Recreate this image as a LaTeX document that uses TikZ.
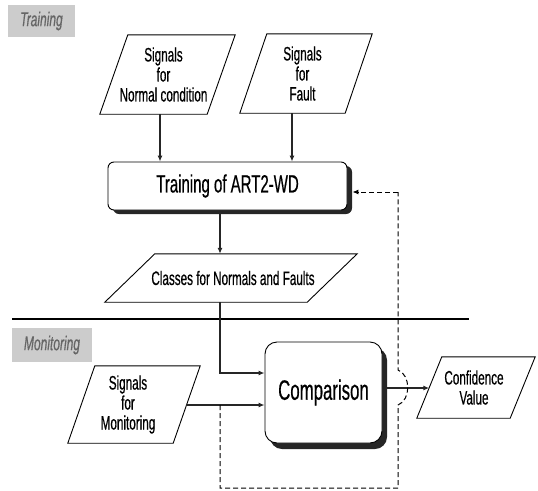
\documentclass[tikz,border=0pt]{standalone}
\usepackage{fontspec}
\setmainfont{Liberation Sans}[FakeStretch=0.6, FakeBold=0.5]
\usetikzlibrary{shadows,arrows.meta}
\newcommand\mypara[2]{\draw[pbox] (#1.south west) -- ([xshift=-#2 pt]#1.south east) -- (#1.north east) -- ([xshift=#2 pt]#1.north west) -- cycle;}
\begin{document}
\begin{tikzpicture}[x=1pt,y=-1pt,
  frame/.style={inner sep=0pt},
  lbl/.style={font=\fontsize{19.5}{20}\selectfont, align=center, inner sep=0pt},
  pbox/.style={draw, line width=0.9pt},
  arr/.style={line width=1.4pt, black!85, -{Latex[length=6pt,width=5pt]}},
  dsh/.style={line width=1pt, black, dash pattern=on 5pt off 3pt},
  tag/.style={fill=black!20, text=black!60, font=\fontsize{20}{22}\selectfont\itshape, inner sep=0pt},
  shbox/.style={draw, fill=white, line width=0.9pt, align=center},
]
\useasboundingbox (0,0) rectangle (538,490);

% section tags
\node[tag, minimum width=67pt, minimum height=32pt] (tt) at (41.5,21) {Training};
\node[tag, minimum width=80pt, minimum height=34pt] (mt) at (52,345) {Monitoring};

% separator
\coordinate (s1) at (12,319);
\coordinate (s2) at (469,319);
\draw[line width=1.1pt] (s1) -- (s2);

% parallelogram nodes
\node[frame, minimum width=135pt, minimum height=79pt] (nc) at (167.5,74.5) {};
\mypara{nc}{28}
\node[lbl] (nct) at ([xshift=-4pt]nc.center) {Signals\\for\\Normal condition};
\node[frame, minimum width=132pt, minimum height=79pt] (fa) at (306,73.5) {};
\mypara{fa}{27}
\node[lbl] (fat) at ([xshift=-3.5pt]fa.center) {Signals\\for\\Fault};
\node[frame, minimum width=252pt, minimum height=48pt] (cl) at (231,278) {};
\mypara{cl}{50}
\node[lbl] (clt) at ([xshift=2pt]cl.center) {Classes for Normals and Faults};
\node[frame, minimum width=132pt, minimum height=77pt] (sm) at (134,404.5) {};
\mypara{sm}{27}
\node[lbl] (smt) at ([xshift=-6pt]sm.center) {Signals\\for\\Monitoring};
\node[frame, minimum width=118pt, minimum height=61pt] (cv) at (476,387.5) {};
\mypara{cv}{25}
\node[lbl] (cvt) at ([xshift=-2pt]cv.center) {Confidence\\Value};

% boxes with shadows
\node[shbox, rounded corners=6pt, minimum width=239pt, minimum height=48pt,
  font=\fontsize{25}{27}\selectfont,
  drop shadow={shadow xshift=5pt, shadow yshift=-4pt, fill=black!85, opacity=1}]
  (tr) at (227.5,186) {Training of ART2-WD};
\node[shbox, rounded corners=12pt, minimum width=117pt, minimum height=101pt,
  font=\fontsize{28}{30}\selectfont,
  drop shadow={shadow xshift=5pt, shadow yshift=-6pt, fill=black!85, opacity=1}]
  (cp) at (323.5,392.5) {Comparison};

% solid connectors
\draw[arr] (nc.south) ++(-7.5,0) coordinate (a1) -- (a1 |- tr.north);
\draw[arr] (fa.south) ++(-14,0) coordinate (a2) -- (a2 |- tr.north);
\draw[arr] (tr.south) ++(-7.5,4) coordinate (a3) -- (a3 |- cl.north);
\draw[arr] (cl.south) ++(-11,0) coordinate (a4) |- ([yshift=19.5pt]cp.west);
\draw[arr] (sm.east) ++(-14,0.5) coordinate (a5) -- (a5 -| cp.west);
\coordinate (cvin) at ([xshift=12.5pt]cv.west);
\draw[arr] (cp.east) ++(4,-4.5) coordinate (a6) -- (a6 -| cvin);

% dashed feedback loop
\coordinate (d0) at (a4 |- a5);
\coordinate (d1) at (220,488);
\coordinate (d2) at (398,488);
\coordinate (j1) at (398,405);
\coordinate (j2) at (398,370);
\coordinate (dt) at (398,192);
\coordinate (tin) at ([xshift=5pt,yshift=-6pt]tr.east);
\draw[dsh] (d0) -- (d1) -- (d2) -- (j1) .. controls (411,400) and (411,375) .. (j2) -- (dt);
\draw[dsh, -{Latex[length=6pt,width=5pt]}] (dt) -- (tin);
\end{tikzpicture}
\end{document}
